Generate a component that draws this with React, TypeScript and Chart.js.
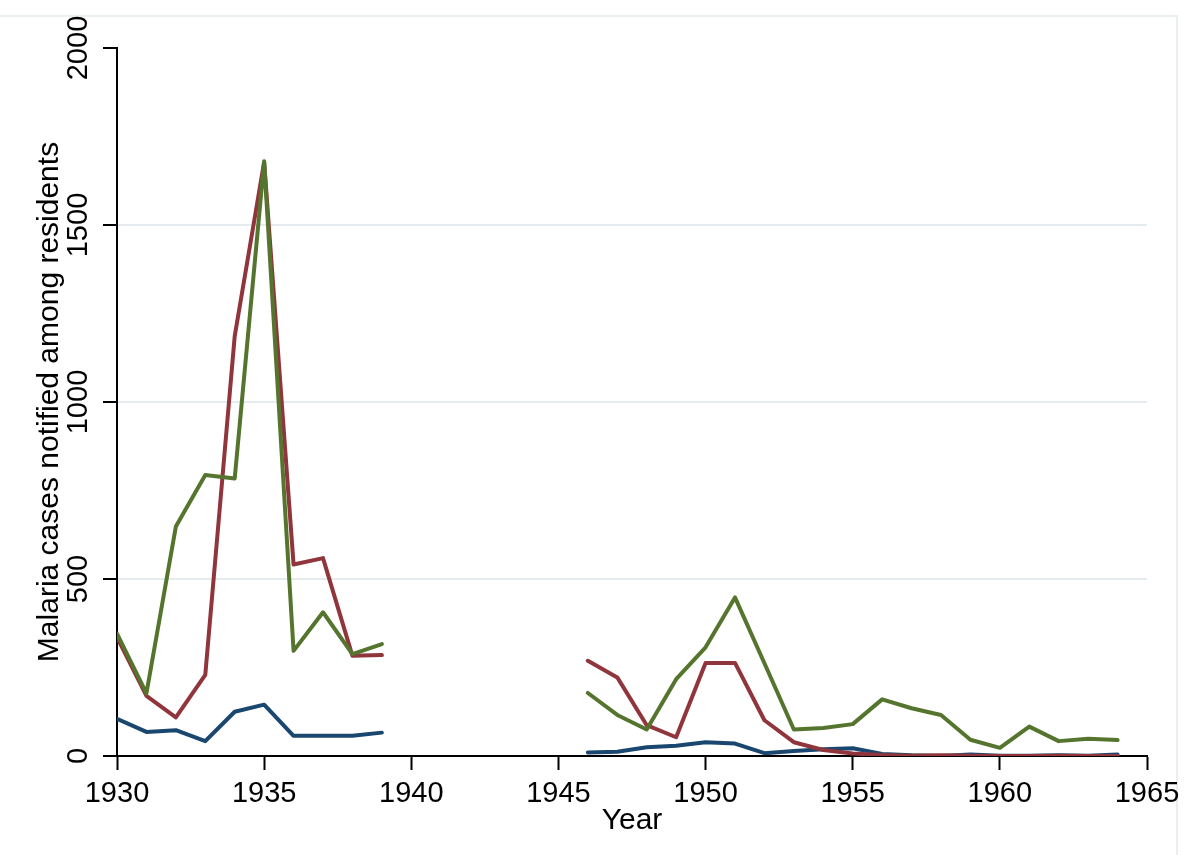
import React, { useEffect, useRef } from "react";
import { Chart, registerables } from "chart.js";

Chart.register(...registerables);

const years = [
  1930, 1931, 1932, 1933, 1934, 1935, 1936, 1937, 1938, 1939,
  1940, 1941, 1942, 1943, 1944, 1945,
  1946, 1947, 1948, 1949, 1950, 1951, 1952, 1953, 1954, 1955,
  1956, 1957, 1958, 1959, 1960, 1961, 1962, 1963, 1964,
];

const blueSeries = [
  105, 68, 73, 42, 125, 145, 57, 57, 57, 66,
  null, null, null, null, null, null,
  10, 12, 25, 29, 39, 35, 8, 14, 19, 22,
  6, 2, 0, 4, 1, 1, 2, 1, 4,
];

const redSeries = [
  335, 170, 109, 229, 1186, 1678, 541, 559, 283, 285,
  null, null, null, null, null, null,
  269, 222, 87, 53, 263, 263, 101, 39, 17, 7,
  3, 1, 2, 1, 0, 0, 1, 0, 0,
];

const greenSeries = [
  346, 177, 648, 794, 784, 1680, 297, 406, 288, 316,
  null, null, null, null, null, null,
  178, 116, 75, 217, 307, 448, 262, 75, 79, 90,
  160, 135, 116, 46, 23, 83, 42, 49, 45,
];

const xTicks = [1930, 1935, 1940, 1945, 1950, 1955, 1960, 1965];
const yTicks = [0, 500, 1000, 1500, 2000];
const yGridValues = [500, 1000, 1500];

const FONT = "'Liberation Sans', Arial, Helvetica, sans-serif";

const toPoints = (vals: (number | null)[]) =>
  years.map((yr, i) => ({ x: yr, y: vals[i] }));

const framePlugin = {
  id: "faintFrame",
  beforeDraw(chart: any) {
    const { ctx } = chart;
    ctx.save();
    ctx.strokeStyle = "#eaf0f2";
    ctx.lineWidth = 2;
    ctx.beginPath();
    ctx.moveTo(0, 16);
    ctx.lineTo(1177, 16);
    ctx.lineTo(1177, 855);
    ctx.stroke();
    ctx.restore();
  },
};

const lineStyle = {
  borderWidth: 4,
  pointRadius: 0,
  tension: 0,
  spanGaps: false,
  borderJoinStyle: "round",
  borderCapStyle: "round",
};

export default function App() {
  const ref = useRef<HTMLCanvasElement | null>(null);

  useEffect(() => {
    if (!ref.current) return;
    const chart = new Chart(ref.current, {
      type: "line",
      data: {
        datasets: [
          {
            label: "Series A",
            data: toPoints(blueSeries),
            borderColor: "#1a476f",
            order: 3,
            ...lineStyle,
          },
          {
            label: "Series B",
            data: toPoints(redSeries),
            borderColor: "#90353b",
            order: 2,
            ...lineStyle,
          },
          {
            label: "Series C",
            data: toPoints(greenSeries),
            borderColor: "#55752f",
            order: 1,
            ...lineStyle,
          },
        ],
      },
      options: {
        animation: false,
        responsive: false,
        maintainAspectRatio: false,
        layout: { padding: { top: 48, right: 53, left: 0, bottom: 0 } },
        plugins: {
          legend: { display: false },
          tooltip: { enabled: false },
        },
        scales: {
          x: {
            type: "linear",
            min: 1930,
            max: 1965,
            afterBuildTicks: (scale: any) => {
              scale.ticks = xTicks.map((v) => ({ value: v }));
            },
            afterFit: (scale: any) => {
              scale.height = 99;
            },
            ticks: {
              color: "#000",
              font: { family: FONT, size: 29 },
              padding: 7,
              maxRotation: 0,
              minRotation: 0,
              autoSkip: false,
              callback: (v: any) => String(v),
            },
            grid: {
              drawOnChartArea: false,
              tickLength: 14,
              tickWidth: 2,
              tickColor: "#000",
            },
            border: { color: "#000", width: 2 },
            title: {
              display: true,
              text: "Year",
              color: "#000",
              font: { family: FONT, size: 30 },
              padding: { top: 0, bottom: 16 },
            },
          },
          y: {
            type: "linear",
            min: 0,
            max: 2000,
            afterBuildTicks: (scale: any) => {
              scale.ticks = yTicks.map((v) => ({ value: v }));
            },
            afterFit: (scale: any) => {
              scale.width = 117;
            },
            ticks: {
              color: "#000",
              font: { family: FONT, size: 29 },
              padding: -8,
              minRotation: 90,
              maxRotation: 90,
              crossAlign: "center",
              callback: (v: any) => String(v),
            },
            grid: {
              color: (c: any) =>
                c.tick && yGridValues.includes(c.tick.value)
                  ? "#e4ecef"
                  : "rgba(0,0,0,0)",
              lineWidth: 2,
              tickLength: 14,
              tickWidth: 2,
              tickColor: "#000",
            },
            border: { color: "#000", width: 2 },
            title: {
              display: true,
              text: "Malaria cases notified among residents",
              color: "#000",
              font: { family: FONT, size: 30 },
              padding: { top: 32, bottom: 0 },
            },
          },
        },
      },
      plugins: [framePlugin],
    } as any);
    return () => chart.destroy();
  }, []);

  return (
    <div
      style={{
        position: "absolute",
        left: 0,
        top: 0,
        width: 1200,
        height: 855,
        background: "#fff",
      }}
    >
      <canvas ref={ref} width={1200} height={855} style={{ display: "block" }} />
    </div>
  );
}
